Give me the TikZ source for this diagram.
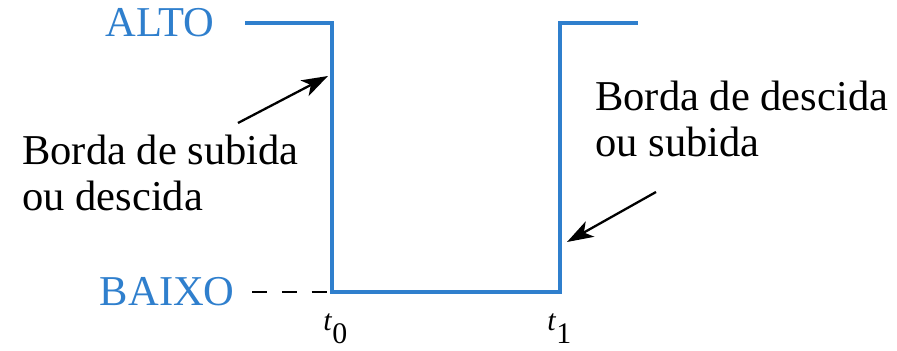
\documentclass[tikz,border=0pt]{standalone}
\usepackage{fontspec}
\setmainfont{Liberation Serif}
\usetikzlibrary{arrows.meta, positioning}
\definecolor{sigblue}{HTML}{2F7FCD}

\begin{document}
\begin{tikzpicture}[
    level/.style={font=\fontsize{24.2}{26.7}\selectfont, text=sigblue, inner sep=0pt, anchor=east},
    note/.style={font=\fontsize{24.2}{26.7}\selectfont, align=left, inner sep=0pt, anchor=base west},
    tick/.style={font=\fontsize{17}{20}\selectfont, inner sep=0pt, anchor=base west},
    wave/.style={line width=2.6pt, sigblue},
    arrow/.style={-{Stealth[length=15pt, width=10pt, inset=4pt]}, line width=1.3pt},
]
\useasboundingbox (0,0) rectangle (17.94,7.02);

% Waveform corners
\coordinate (hi0) at (4.9,6.56);
\coordinate (fall) at (6.64,6.56);
\coordinate (t0low) at (6.64,1.18);
\coordinate (t1low) at (11.2,1.18);
\coordinate (rise) at (11.2,6.56);
\coordinate (hi1) at (12.76,6.56);
\draw[wave] (hi0) -- (fall) -- (t0low) -- (t1low) -- (rise) -- (hi1);

% Levels
\node[level] (alto) at (4.3,6.56) {ALTO};
\node[level] (baixo) at (4.7,1.18) {BAIXO};
\draw[line width=1pt, dash pattern=on 8.5pt off 8.5pt] ([xshift=0.34cm]baixo.east) -- (t0low);

% Time marks
\node[tick] (t0) at (6.46,0.4) {\textit{t}\raisebox{-7pt}{0}};
\node[tick] (t1) at (10.94,0.4) {\textit{t}\raisebox{-7pt}{1}};

% Edge notes (base = last line)
\node[note] (risenote) at (0.44,2.8) {Borda de subida\\ou descida};
\node[note] (fallnote) at (11.9,3.88) {Borda de descida\\ou subida};

% Pointers
\coordinate (p0) at (4.76,4.56);
\coordinate (e0) at (6.56,5.5);
\coordinate (p1) at (13.12,3.18);
\coordinate (e1) at (11.34,2.18);
\draw[arrow] (p0) -- (e0);
\draw[arrow] (p1) -- (e1);

\end{tikzpicture}
\end{document}
